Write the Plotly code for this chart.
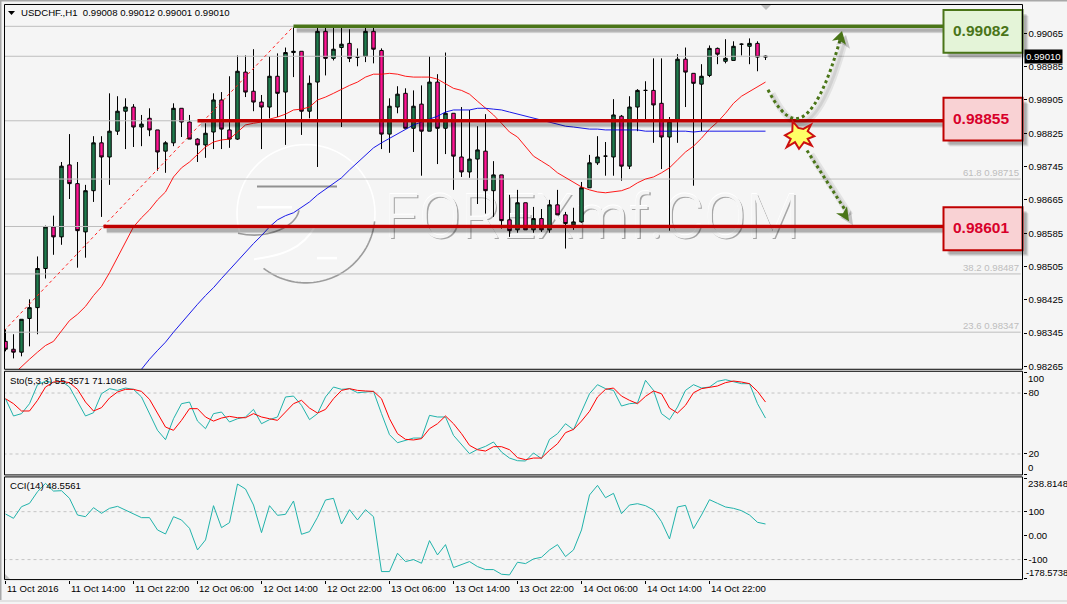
import numpy as np
import plotly.graph_objects as go

# USDCHF H1 candles, in points (1 point = 0.00001)
opens = [98325,98306,98299,98380,98406,98500,98600,98576,98749,98704,98588,98687,98802,98768,98830,98878,98888,98840,98861,98833,
         98782,98802,98885,98852,98811,98797,98828,98905,98833,98811,98972,98926,98900,98888,98962,98924,99019,99022,98878,98948,
         99070,99005,99031,99041,99008,99010,99070,99024,98823,98888,98921,98837,98895,98830,98948,98837,98873,98768,98732,98763,
         98782,98687,98725,98617,98593,98658,98593,98620,98593,98653,98629,98605,98612,98694,98754,98770,98768,98866,98746,98888,
         98928,98928,98897,98816,98854,99003,98969,98943,98964,99029,98998,99000,99039,99034,99041,99008]
highs = [98354,98342,98378,98426,98529,98603,98627,98756,98823,98756,98701,98818,98818,98921,98914,98909,98895,98869,98885,98833,
         98806,98897,98885,98869,98813,98849,98921,98924,98962,99012,99012,99027,98917,99010,99017,99031,99079,99022,98964,99079,
         99079,99079,99079,99075,99029,99079,99079,99029,98909,98938,98933,98928,98940,99010,98967,99019,98873,98888,98881,98842,
         98871,98758,98725,98677,98689,98658,98648,98643,98665,98689,98636,98646,98708,98773,98818,98804,98907,98869,98914,98931,
         98950,99005,99005,98864,99015,99031,98969,98991,99036,99031,99051,99046,99041,99053,99046,99012]
lows = [98301,98284,98289,98313,98342,98476,98533,98557,98667,98502,98526,98660,98624,98701,98821,98787,98792,98794,98818,98735,
        98730,98794,98816,98811,98756,98766,98787,98787,98790,98809,98912,98878,98787,98861,98864,98797,98960,98821,98861,98744,
        98964,99000,98840,98996,98986,98996,98993,98787,98778,98873,98837,98780,98723,98830,98751,98775,98689,98720,98718,98655,
        98632,98624,98596,98576,98586,98593,98586,98588,98586,98629,98548,98593,98610,98694,98749,98723,98723,98711,98739,98830,
        98859,98802,98739,98591,98802,98888,98699,98830,98960,98991,98993,99000,99012,98991,98974,99001]
closes = [98306,98299,98378,98406,98500,98600,98576,98746,98704,98591,98687,98802,98768,98830,98878,98888,98840,98847,98833,98780,
          98802,98885,98852,98811,98797,98825,98905,98835,98811,98974,98924,98900,98888,98962,98921,99019,99022,98878,98945,99070,
          99005,99027,99039,99005,99008,99070,99027,98823,98890,98919,98837,98890,98830,98948,98837,98873,98770,98732,98763,98785,
          98687,98725,98615,98591,98658,98593,98620,98593,98653,98629,98608,98612,98694,98754,98768,98770,98869,98746,98888,98928,
          98928,98893,98816,98854,99003,98972,98945,98962,99029,99015,99005,99034,99039,99041,99008,99010]

# Moving averages, starting at their first visible bars
fast_ma_start = 1
fast_ma = [98246,98265,98282,98299,98315,98325,98349,98375,98390,98409,98435,98457,98490,98526,98562,98600,98622,98641,98665,98684,
           98720,98742,98756,98773,98792,98804,98809,98811,98828,98845,98849,98852,98859,98864,98871,98881,98883,98888,98905,98912,
           98921,98931,98940,98948,98960,98967,98967,98969,98967,98962,98960,98960,98960,98955,98945,98933,98928,98919,98902,98885,
           98869,98849,98828,98816,98792,98770,98758,98746,98730,98718,98706,98696,98689,98684,98682,98684,98687,98694,98706,98715,
           98720,98730,98742,98761,98780,98794,98813,98835,98852,98873,98897,98914,98926,98938,98948]
slow_ma_start = 17
slow_ma = [98258,98282,98303,98323,98347,98370,98392,98414,98435,98454,98476,98497,98519,98538,98560,98579,98600,98617,98627,98634,
           98646,98660,98677,98691,98703,98718,98737,98754,98773,98790,98802,98813,98825,98835,98845,98852,98859,98866,98876,98881,
           98881,98881,98885,98885,98883,98881,98876,98871,98866,98861,98857,98852,98847,98842,98840,98837,98835,98835,98833,98833,
           98833,98833,98833,98830,98830,98830,98830,98830,98830,98828,98830,98830,98830,98830,98830,98830,98830,98830,98830]

# Stochastic(5,3,3)
sto_main = [74.4,57.4,59.7,69.5,88.2,91.5,90.2,91.5,85.9,71.1,57.4,60.6,79.3,84.3,82.6,84.9,83.6,76.1,59.7,43.3,
            34.1,54.7,69.5,71.1,52.4,44.9,59.7,61.3,51.5,54.7,56.4,63.9,49.8,53.8,56.4,76.1,77.0,67.9,53.8,59.7,
            76.1,85.9,83.6,84.3,80.3,81.0,81.6,59.7,39.0,31.1,33.4,35.7,35.7,58.0,56.4,56.4,38.3,29.2,20.3,24.6,
            27.5,31.8,21.9,16.0,13.4,13.1,21.0,15.4,34.4,40.0,49.8,43.9,61.3,79.3,88.2,84.3,82.6,67.2,69.5,70.2,
            92.5,82.6,59.7,53.8,66.2,82.6,88.2,84.9,85.9,91.5,93.1,90.8,89.2,89.2,69.5,55.3571]
sto_signal = [74.4,69.5,62.3,62.3,72.8,85.9,90.8,91.5,90.2,83.6,71.1,62.3,65.6,75.1,81.0,83.6,83.6,81.6,73.8,59.7,
              46.5,43.3,53.1,64.6,64.6,56.4,52.4,55.4,57.0,55.7,55.7,59.7,56.4,54.7,53.1,61.3,69.5,72.8,65.2,60.3,
              63.9,74.4,82.6,84.3,82.6,82.0,81.6,74.4,54.7,40.0,34.4,33.8,35.1,44.9,49.8,57.4,49.8,40.0,28.5,24.2,
              22.9,27.2,27.2,24.2,16.4,14.4,16.0,16.0,23.6,30.1,41.0,44.2,52.4,62.0,76.1,83.6,84.9,77.0,72.8,69.5,
              76.7,82.0,79.3,65.2,60.3,67.9,80.3,84.3,85.9,86.9,90.2,91.8,90.8,89.2,81.6,71.1068]

# CCI(14)
cci = [90.3,72.2,120.8,134.7,183.3,218.0,186.0,187.5,155.6,86.0,79.0,116.7,93.0,113.9,122.2,107.0,88.9,75.0,75.0,23.6,
       6.9,79.0,65.3,30.6,-59.7,-18.0,125.0,33.3,54.2,215.3,194.5,127.8,12.5,125.0,84.7,88.9,144.5,5.6,16.7,76.4,
       148.6,155.6,48.6,108.3,65.3,108.3,79.0,-150.0,-150.0,-73.6,-108.3,-100.0,-115.3,-20.8,-80.6,-37.5,-133.3,-122.2,-108.3,-129.2,
       -141.7,-141.7,-161.1,-163.9,-111.1,-116.7,-97.2,-90.3,-59.7,-37.5,-87.5,-59.7,23.6,169.5,209.7,158.3,176.4,91.7,127.8,133.3,
       125.0,107.0,58.3,-13.9,119.5,126.4,29.2,86.1,150.0,134.7,119.5,113.9,104.2,86.1,55.6,48.5561]

# Axis ticks and labels
price_ticks = [99065,98985,98905,98825,98745,98665,98585,98505,98425,98345,98265]
time_tick_bars = [0,8,16,24,32,40,48,56,64,72,80,88]
time_tick_labels = ["11 Oct 2016","11 Oct 14:00","11 Oct 22:00","12 Oct 06:00","12 Oct 14:00","12 Oct 22:00",
                    "13 Oct 06:00","13 Oct 14:00","13 Oct 22:00","14 Oct 06:00","14 Oct 14:00","14 Oct 22:00"]

# Fibonacci retracement: anchor line and levels
fib_anchor_bars = [-0.7, 36]
fib_anchor_prices = [98340, 99082]
fib_levels = ["23.6", "38.2", "50.0", "61.8", "76.4", "100.0"]
fib_prices = [98347, 98487, 98601, 98715, 98855, 99082]
fib_labelled = ["23.6", "38.2", "61.8"]

# Support and resistance levels
level_prices = [99082, 98855, 98601]
level_labels = ["0.99082", "0.98855", "0.98601"]
level_start_bars = [36, 24, 12.25]
level_colors = ["#4A7518", "#C00000", "#C00000"]
level_text_colors = ["#4A7518", "#D8002A", "#D8002A"]
level_fills = ["#E4F4D8", "#F9D2D4", "#F9D2D4"]
level_box_tops = [10, 98, 208]
level_box_bottoms = [53, 141, 251]

W, H = 1067, 604
LEFT, RIGHT = 4.5, 1022.5
MAIN = (4.5, 370.5)
STO = (372.5, 476.5)
CCI = (478.5, 581.5)
BAR0 = 5.5  # horizontal position of the first bar on the frame
FG = "#000000"
BG = "#F5F5F5"
FONT = "Liberation Sans"
TXT = 9.6

def fx(p):
    return p / W

def fy(p):
    return 1 - p / H

def pts(v):
    return [a / 1e5 for a in v]

def point_to_price(y):
    return (99065 - 2.395 * (y - 33.5)) / 1e5

def path(points, closed=False):
    s = "M" + " L".join(f"{fx(a):.5f},{fy(b):.5f}" for a, b in points)
    return s + (" Z" if closed else "")

def curve(start, *segs):
    s = f"M{fx(start[0]):.5f},{fy(start[1]):.5f}"
    for a, b, c in segs:
        s += f" C{fx(a[0]):.5f},{fy(a[1]):.5f} {fx(b[0]):.5f},{fy(b[1]):.5f} {fx(c[0]):.5f},{fy(c[1]):.5f}"
    return s

def arc(cx, cy, r, a0, a1):
    return [(cx + r * np.cos(np.radians(t)), cy - r * np.sin(np.radians(t))) for t in np.linspace(a0, a1, 48)]

bars = list(range(len(opens)))
fig = go.Figure()

# Embossed site watermark sits on the base axis, under the market traces
mark_text = "FOREXmf.COM"
for dx, dy, color in [(0.2, -3.5, "#A6A6A6"), (0.0, 0.0, "#FFFFFF"), (0.03, -0.8, BG)]:
    fig.add_trace(go.Scatter(x=[47.3 + dx], y=[0.98612 + dy / 1e5], mode="text", text=[mark_text],
                             textposition="middle right", yaxis="y", xaxis="x", hoverinfo="skip", showlegend=False,
                             textfont=dict(family="Roboto", size=62, color=color, weight=300)))

# Fibonacci grey levels and the current price line
for price in fib_prices + [closes[-1]]:
    fig.add_trace(go.Scatter(x=[-1, 126.9], y=[price / 1e5] * 2, mode="lines", yaxis="y4", xaxis="x",
                             line=dict(color="#BEBEBE", width=1), hoverinfo="skip", showlegend=False))

fig.add_trace(go.Candlestick(x=bars, open=pts(opens), high=pts(highs), low=pts(lows), close=pts(closes),
                             yaxis="y4", xaxis="x", whiskerwidth=0, showlegend=False,
                             increasing=dict(line=dict(color=FG, width=1), fillcolor="#1F7A4D"),
                             decreasing=dict(line=dict(color=FG, width=1), fillcolor="#FF1493")))

fig.add_trace(go.Scatter(x=fib_anchor_bars, y=pts(fib_anchor_prices), mode="lines", yaxis="y4", xaxis="x",
                         line=dict(color="#FF2020", width=1, dash="3px,3px"), showlegend=False, hoverinfo="skip"))
fig.add_trace(go.Scatter(x=list(range(fast_ma_start, fast_ma_start + len(fast_ma))), y=pts(fast_ma), mode="lines",
                         yaxis="y4", xaxis="x", line=dict(color="#FF0000", width=0.9), showlegend=False, hoverinfo="skip"))
fig.add_trace(go.Scatter(x=list(range(slow_ma_start, slow_ma_start + len(slow_ma))), y=pts(slow_ma), mode="lines",
                         yaxis="y4", xaxis="x", line=dict(color="#0000E6", width=0.9), showlegend=False, hoverinfo="skip"))

# Oscillator panels
for level in [80, 20]:
    fig.add_trace(go.Scatter(x=[-1, 128], y=[level] * 2, mode="lines", yaxis="y2", xaxis="x",
                             line=dict(color="#C4C4C4", width=1, dash="3px,3px"), showlegend=False, hoverinfo="skip"))
for level in [100, -100]:
    fig.add_trace(go.Scatter(x=[-1, 128], y=[level] * 2, mode="lines", yaxis="y3", xaxis="x",
                             line=dict(color="#C4C4C4", width=1, dash="3px,3px"), showlegend=False, hoverinfo="skip"))
fig.add_trace(go.Scatter(x=bars, y=sto_main, mode="lines", yaxis="y2", xaxis="x",
                         line=dict(color="#20B2AA", width=1), showlegend=False, hoverinfo="skip"))
fig.add_trace(go.Scatter(x=bars, y=sto_signal, mode="lines", yaxis="y2", xaxis="x",
                         line=dict(color="#FF0000", width=1), showlegend=False, hoverinfo="skip"))
fig.add_trace(go.Scatter(x=bars, y=cci, mode="lines", yaxis="y3", xaxis="x",
                         line=dict(color="#20B2AA", width=1), showlegend=False, hoverinfo="skip"))

shapes = []

def add_line_shape(pth, color, width, dash=None, layer="above"):
    shapes.append(dict(type="path", path=pth, xref="paper", yref="paper", layer=layer,
                       line=dict(color=color, width=width, dash=dash)))

def add_fill_shape(pth, fill, line_color=None, line_width=0, layer="above"):
    shapes.append(dict(type="path", path=pth, xref="paper", yref="paper", layer=layer, fillcolor=fill,
                       line=dict(color=line_color or "rgba(0,0,0,0)", width=line_width)))

def add_rect(x0, y0, x1, y1, fill=None, line_color=None, line_width=0, layer="above"):
    shapes.append(dict(type="rect", xref="paper", yref="paper", x0=fx(x0), x1=fx(x1), y0=fy(y0), y1=fy(y1),
                       layer=layer, fillcolor=fill or "rgba(0,0,0,0)",
                       line=dict(color=line_color or "rgba(0,0,0,0)", width=line_width)))

# Circular logo behind the chart
WHITE = "#FFFFFF"
GREY = "rgba(125,125,125,0.75)"
add_line_shape(path(arc(306, 214, 69, 196, -12)), WHITE, 1.6, layer="below")
add_line_shape(path(arc(306, 214.8, 69, -6, -128)), GREY, 1.6, layer="below")
add_line_shape(path([(257, 187), (337, 187)]), "rgba(120,120,120,0.8)", 2, layer="below")
add_line_shape(path([(257, 208), (292, 208)]), WHITE, 2.5, layer="below")
add_line_shape(path([(317, 259), (337, 259)]), WHITE, 2.5, layer="below")
add_line_shape(curve((299, 211), ((296, 226), (270, 241), (238, 234))), GREY, 1.6, layer="below")
add_line_shape(curve((315, 227), ((303, 250), (280, 257), (254, 260))), WHITE, 2, layer="below")

# Level lines with soft shadows
box_left, box_right = 943.5, 1022.5
level_end_bar = (box_left - BAR0) / 8
for price, start, color in zip(level_prices, level_start_bars, level_colors):
    y0 = price / 1e5
    for off, width, alpha in [(3, 8, 0.07), (4, 5, 0.11), (4, 3, 0.13)]:
        shapes.append(dict(type="line", xref="x", yref="y4", x0=start + 0.4, x1=level_end_bar, layer="above",
                           y0=y0 - off * 2.395 / 1e5, y1=y0 - off * 2.395 / 1e5,
                           line=dict(color=f"rgba(0,0,0,{alpha})", width=width)))
    shapes.append(dict(type="line", xref="x", yref="y4", x0=start, x1=level_end_bar, y0=y0, y1=y0, layer="above",
                       line=dict(color=color, width=3.5)))

# Projected paths: up to resistance and down to support
up_path = curve((768, 90), ((776, 106), (786, 119), (796, 119)), ((813, 119), (829, 80), (840, 40)))
down_path = path([(807, 151), (846, 212)])
up_shadow = curve((772, 94), ((780, 110), (790, 123), (800, 123)), ((817, 123), (833, 84), (844, 44)))
down_shadow = path([(811, 155), (850, 216)])
for pth in [up_shadow, down_shadow]:
    add_line_shape(pth, "rgba(0,0,0,0.07)", 7)
    add_line_shape(pth, "rgba(0,0,0,0.08)", 3)
add_line_shape(up_path, "#4A7518", 3, dash="3px,3px")
add_line_shape(down_path, "#4A7518", 3, dash="3px,3px")
add_fill_shape(path([(846, 35), (836, 45), (842, 44), (850, 49)], True), "rgba(0,0,0,0.2)")
add_fill_shape(path([(842, 31), (832, 41), (838, 40), (846, 45)], True), "#4A7518")
add_fill_shape(path([(853, 226), (840, 218), (847, 218), (851, 211)], True), "rgba(0,0,0,0.2)")
add_fill_shape(path([(849, 222), (836, 214), (843, 214), (847, 207)], True), "#4A7518")

# Collision marker between the two paths
burst = [(792.7, 121.7), (798.3, 128.3), (803.3, 129.3), (811, 125), (807.7, 131.7), (814.3, 136.7), (807.7, 139.3),
         (811.7, 146), (804, 142.7), (799, 149.3), (795, 142.7), (786.7, 147.7), (790.7, 139.3), (785, 135.7), (792.3, 131.7)]
add_fill_shape(path(burst, True), "#FFFF66", "#CC1010", 2)

# Price boxes
for top, bottom, fill, color in zip(level_box_tops, level_box_bottoms, level_fills, level_colors):
    for off, alpha in [(6, 0.08), (5, 0.1), (4, 0.14)]:
        add_rect(box_left + off, top + off, box_right + off, bottom + off, "rgba(0,0,0,%s)" % alpha)
    add_rect(box_left, top, box_right, bottom, fill, color, 2)

# Panel frames
for top, bottom in [MAIN, STO, CCI]:
    add_rect(LEFT, top, RIGHT, bottom, None, FG, 1)

# Window edges and small markers
add_rect(0, 0, W, 1.5, "#A8A8A8")
add_rect(0, 0, 1.5, H, "#A8A8A8")
add_rect(0, 602, W, H, "#E2E2E2")
add_fill_shape(path([(8, 11), (15, 11), (11.5, 15)], True), "#000000")
add_fill_shape(path([(761, 5), (771, 5), (766, 10)], True), "#BDBDBD")
add_fill_shape(path([(5, 576), (5, 581), (10, 581)], True), "#C4C4C4")

annotations = []

def note(text, x, y, color=FG, size=TXT, anchor="left", yanchor="middle", family=FONT, bold=False, **kw):
    annotations.append(dict(text=f"<b>{text}</b>" if bold else text, x=fx(x), y=fy(y), xref="paper", yref="paper",
                            showarrow=False, xanchor=anchor, yanchor=yanchor, borderpad=0,
                            font=dict(family=family, size=size, color=color), **kw))

note("USDCHF.,H1 &nbsp;0.99008 0.99012 0.99001 0.99010", 19.5, 12.5)
note("Sto(5,3,3) 55.3571 71.1068", 9, 382)
note("CCI(14) 48.5561", 9, 487.5)

for tick, label in zip(time_tick_bars, time_tick_labels):
    annotations.append(dict(text=label, x=tick, y=fy(590.5), xref="x", yref="paper", showarrow=False, xanchor="left",
                            yanchor="middle", xshift=-1, font=dict(family=FONT, size=TXT, color=FG)))

for name, price in zip(fib_levels, fib_prices):
    if name in fib_labelled:
        annotations.append(dict(text=f"{name} {price / 1e5:.5f}", x=fx(1021), y=price / 1e5, xref="paper", yref="y4",
                                showarrow=False, xanchor="right", yanchor="bottom", yshift=-1,
                                font=dict(family=FONT, size=TXT, color="#BDBDBD")))

for label, top, bottom, color in zip(level_labels, level_box_tops, level_box_bottoms, level_text_colors):
    note(label, 980.5, (top + bottom) / 2 - 1, color=color, size=15.5, anchor="center", bold=True)

annotations.append(dict(text=f"{closes[-1] / 1e5:.5f}", x=fx(1023.5), y=closes[-1] / 1e5, xref="paper", yref="y4",
                        showarrow=False, xanchor="left", yanchor="middle", bgcolor="#000000", borderpad=1,
                        font=dict(family=FONT, size=TXT, color="#FFFFFF")))

# Clamped oscillator scale labels
note("100", 1027, 379.5)
note("0", 1027, 469.5)
note("238.8148", 1027, 485.5)
note("-178.5738", 1025, 574.5, size=9.4)

axis_common = dict(showgrid=False, zeroline=False, showline=False, ticks="outside", ticklen=3, tickwidth=1,
                   tickcolor=FG, tickfont=dict(family=FONT, size=TXT, color=FG), side="right", anchor="x")

main_range = [point_to_price(MAIN[1]), point_to_price(MAIN[0])]
sto_range = [-0.6, 101.4]
cci_range = [-183.4, 245.0]

fig.update_layout(
    width=W, height=H, margin=dict(l=0, r=0, t=0, b=0), paper_bgcolor=BG, plot_bgcolor=BG,
    showlegend=False, boxgap=0.38, hovermode=False,
    shapes=shapes, annotations=annotations,
    xaxis=dict(domain=[fx(LEFT), fx(RIGHT)], range=[(LEFT - BAR0) / 8, (RIGHT - BAR0) / 8], anchor="y3",
               tickvals=time_tick_bars, showticklabels=False, ticks="outside", ticklen=3, tickcolor=FG,
               showgrid=False, zeroline=False, showline=False, rangeslider=dict(visible=False)),
    yaxis=dict(domain=[fy(MAIN[1]), fy(MAIN[0])], range=main_range, visible=False, anchor="x"),
    yaxis4=dict(axis_common, overlaying="y", range=main_range, tickvals=pts(price_ticks),
                ticktext=[f"{v / 1e5:.5f}" for v in price_ticks]),
    yaxis2=dict(axis_common, domain=[fy(STO[1]), fy(STO[0])], range=sto_range,
                tickvals=[100, 80, 20, 0], ticktext=["", "80", "20", ""]),
    yaxis3=dict(axis_common, domain=[fy(CCI[1]), fy(CCI[0])], range=cci_range,
                tickvals=[238.8148, 100, 0, -100, -178.5738], ticktext=["", "100", "0.00", "-100", ""]),
)

fig.write_html("out.html", config=dict(displayModeBar=False))
